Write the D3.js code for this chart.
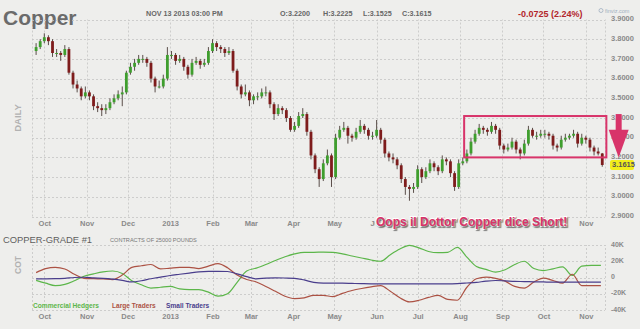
<!DOCTYPE html>
<html>
<head>
<meta charset="utf-8">
<script src="https://cdn.jsdelivr.net/npm/d3@7"></script>
<style>
  body { margin: 0; background: #eeeeec; }
  svg { display: block; font-family: "Liberation Sans", Arial, sans-serif; }
</style>
</head>
<body>
<svg class="chart"></svg>
<script>
// Price candles, one every 3 calendar days starting Sep 25 2012: [open, high, low, close]
var candleStart = new Date(2012, 8, 25);
var candleStepDays = 3;
var candles = [
  [3.74,3.78,3.72,3.76],[3.76,3.80,3.75,3.79],[3.79,3.83,3.78,3.81],[3.81,3.82,3.77,3.79],
  [3.79,3.80,3.71,3.73],[3.73,3.75,3.71,3.73],[3.73,3.74,3.69,3.72],[3.72,3.77,3.71,3.75],
  [3.75,3.76,3.62,3.63],[3.63,3.64,3.55,3.57],[3.57,3.59,3.53,3.55],[3.55,3.56,3.49,3.51],
  [3.51,3.56,3.50,3.53],[3.53,3.54,3.49,3.51],[3.51,3.52,3.44,3.46],[3.46,3.48,3.43,3.45],
  [3.45,3.47,3.41,3.44],[3.44,3.47,3.42,3.45],[3.45,3.50,3.44,3.48],[3.48,3.52,3.47,3.50],
  [3.50,3.54,3.49,3.52],[3.52,3.56,3.46,3.53],[3.53,3.64,3.52,3.63],[3.63,3.68,3.62,3.66],
  [3.66,3.70,3.64,3.68],[3.68,3.72,3.67,3.70],[3.70,3.72,3.68,3.70],[3.70,3.71,3.66,3.68],
  [3.68,3.69,3.58,3.60],[3.60,3.61,3.53,3.56],[3.56,3.59,3.55,3.56],[3.56,3.62,3.55,3.60],
  [3.60,3.76,3.59,3.72],[3.72,3.74,3.70,3.72],[3.72,3.73,3.67,3.69],[3.69,3.72,3.68,3.70],
  [3.70,3.71,3.64,3.66],[3.66,3.67,3.60,3.62],[3.62,3.70,3.61,3.68],[3.68,3.71,3.67,3.69],
  [3.69,3.70,3.65,3.67],[3.67,3.70,3.66,3.68],[3.68,3.76,3.67,3.74],[3.74,3.80,3.73,3.78],
  [3.78,3.79,3.74,3.76],[3.76,3.77,3.73,3.75],[3.75,3.76,3.71,3.73],[3.73,3.76,3.72,3.74],
  [3.74,3.75,3.63,3.64],[3.64,3.65,3.54,3.56],[3.56,3.57,3.50,3.52],[3.52,3.57,3.51,3.53],
  [3.53,3.54,3.46,3.49],[3.49,3.52,3.47,3.51],[3.51,3.53,3.49,3.51],[3.51,3.55,3.50,3.53],
  [3.53,3.56,3.51,3.53],[3.53,3.54,3.45,3.47],[3.47,3.48,3.39,3.42],[3.42,3.47,3.41,3.45],
  [3.45,3.46,3.42,3.44],[3.44,3.45,3.38,3.40],[3.40,3.41,3.33,3.34],[3.34,3.38,3.33,3.36],
  [3.36,3.43,3.35,3.41],[3.41,3.45,3.40,3.42],[3.42,3.43,3.31,3.33],[3.33,3.34,3.19,3.21],
  [3.21,3.22,3.12,3.14],[3.14,3.15,3.05,3.09],[3.09,3.19,3.08,3.17],[3.17,3.24,3.16,3.21],
  [3.21,3.22,3.05,3.10],[3.10,3.32,3.09,3.30],[3.30,3.36,3.29,3.34],[3.34,3.38,3.33,3.35],
  [3.35,3.36,3.27,3.31],[3.31,3.32,3.28,3.30],[3.30,3.35,3.29,3.33],[3.33,3.39,3.32,3.36],
  [3.36,3.37,3.32,3.34],[3.34,3.35,3.29,3.31],[3.31,3.33,3.29,3.31],[3.31,3.39,3.30,3.34],
  [3.34,3.35,3.27,3.29],[3.29,3.30,3.20,3.22],[3.22,3.23,3.18,3.20],[3.20,3.22,3.17,3.19],
  [3.19,3.20,3.14,3.16],[3.16,3.17,3.07,3.09],[3.09,3.10,3.01,3.05],[3.05,3.06,2.98,3.04],
  [3.04,3.07,3.02,3.05],[3.05,3.16,3.04,3.14],[3.14,3.15,3.07,3.10],[3.10,3.15,3.09,3.13],
  [3.13,3.19,3.12,3.17],[3.17,3.18,3.13,3.15],[3.15,3.16,3.11,3.13],[3.13,3.21,3.12,3.19],
  [3.19,3.20,3.16,3.18],[3.18,3.19,3.10,3.12],[3.12,3.13,3.03,3.05],[3.05,3.19,3.04,3.17],
  [3.17,3.20,3.16,3.18],[3.18,3.24,3.17,3.22],[3.22,3.30,3.21,3.28],[3.28,3.34,3.27,3.32],
  [3.32,3.37,3.31,3.35],[3.35,3.36,3.32,3.34],[3.34,3.35,3.31,3.33],[3.33,3.38,3.32,3.36],
  [3.36,3.37,3.32,3.34],[3.34,3.35,3.24,3.26],[3.26,3.27,3.22,3.24],[3.24,3.27,3.23,3.25],
  [3.25,3.30,3.24,3.28],[3.28,3.29,3.22,3.24],[3.24,3.25,3.19,3.22],[3.22,3.29,3.21,3.27],
  [3.27,3.36,3.26,3.34],[3.34,3.35,3.30,3.31],[3.31,3.33,3.29,3.31],[3.31,3.34,3.30,3.32],
  [3.32,3.34,3.30,3.32],[3.32,3.33,3.29,3.31],[3.31,3.32,3.24,3.26],[3.26,3.27,3.23,3.25],
  [3.25,3.31,3.24,3.29],[3.29,3.32,3.28,3.30],[3.30,3.32,3.29,3.31],[3.31,3.34,3.30,3.32],
  [3.32,3.33,3.25,3.27],[3.27,3.32,3.26,3.30],[3.30,3.31,3.27,3.29],[3.29,3.30,3.23,3.25],
  [3.25,3.26,3.21,3.23],[3.23,3.25,3.21,3.22],[3.22,3.2225,3.1525,3.1615]
];
var priceTicks = [2.9, 3.0, 3.1, 3.2, 3.3, 3.4, 3.5, 3.6, 3.7, 3.8, 3.9];

// COT weekly net positions (thousands of contracts), starting Sep 25 2012
var cotStart = new Date(2012, 8, 25);
var commercialHedgers = [-3.5,-7,-10,-8.5,-4,1.5,4.5,7,8,5,-4,-9,-13,-12,-11,-14,-15,-15,-18,-23,
  -20,-6,8,11.5,16,21,25.5,29,31,31,31.3,31,29,26.5,24,21.5,20,28,35,39.5,
  36.5,32,30.5,31,37,25,13.5,10,6.5,9.5,16,20,11,8.5,10.7,13,2.5,14,15,15];
var largeTraders = [6,11,12.5,10.5,4,-1,-1.5,-1.8,-2.5,3,12.5,14.5,16,10.5,11.5,12.5,12.5,11,14,17,
  12,3,-2.5,-5.5,-11,-17,-23,-26,-25,-22,-22,-23.5,-19.5,-16,-13.5,-11.5,-10,-17,-25,-30,
  -28,-24.5,-22,-27,-28,-12,-1.5,0.4,-1,-4.5,-11,-13,-5.5,-0.8,-3.7,-7,4,-10,-10,-10];
var smallTraders = [-1.6,-1.6,-1.5,-1,0,0.3,-0.5,-1,-2,-3.5,-5.5,-4,-1.5,0.5,2.5,4,5.5,7,7.5,7.5,
  7.4,4.5,1,-1.6,-0.8,-0.4,-0.6,-1,-3,-6,-7,-7,-7,-7.3,-7.6,-7.8,-7.8,-7.8,-7.8,-7.8,
  -7.8,-7.8,-7.8,-7.8,-7.5,-6.8,-6,-4.5,-3.7,-4.2,-4.8,-5,-5.3,-5.5,-5.7,-5.7,-5.7,-5.7,-5.7,-5.7];
var cotTicks = [-40, -20, 0, 20, 40];
var cotTickLabels = ["-40K", "-20K", "0", "20K", "40K"];
var seriesNames = ["Commercial Hedgers", "Large Traders", "Small Traders"];
var seriesColors = ["#5cb64a", "#ac5244", "#4a3e8c"];

// Header quote
var quoteDate = "NOV 13 2013 03:00 PM";
var quoteFields = ["O:3.2200", "H:3.2225", "L:3.1525", "C:3.1615"];
var quoteChange = "-0.0725 (2.24%)";
var lastPrice = 3.1615;

// Annotation: range box and arrow
var boxFrom = new Date(2013, 7, 4), boxTo = new Date(2013, 10, 16);
var boxHigh = 3.41, boxLow = 3.20;
var arrowDate = new Date(2013, 10, 25);
var arrowTop = 3.42, arrowHeadBase = 3.34, arrowTip = 3.20;
var annotationText = "Oops il Dottor Copper dice Short!";

/******** Make Chart ********/
const width = 640, height = 329;
const marginLeft = 32, marginRight = 35;
const pink = "#d8346a";
const bg = "#eeeeec";

var svg = d3.select(".chart").attr("width", width).attr("height", height);
svg.append("rect").attr("width", width).attr("height", height).attr("fill", bg);

var x = d3.scaleTime()
    .domain([new Date(2012, 8, 22), new Date(2013, 10, 15)])
    .range([marginLeft, width - marginRight]);
var y = d3.scaleLinear().domain([2.9, 3.9]).range([216.5, 19.5]);
var y2 = d3.scaleLinear().domain([-40, 40]).range([310, 245]);

var months = x.ticks(d3.timeMonth.every(1));
var monthFormat = d => d.getMonth() === 0 ? d3.timeFormat("%Y")(d) : d3.timeFormat("%b")(d);

function grid(yScale, ticks) {
    var g = svg.append("g").attr("class", "grid")
        .attr("stroke", "#c4c4c4").attr("stroke-dasharray", "2,2").attr("stroke-width", 0.8);
    g.selectAll(".h").data(ticks).enter().append("line")
        .attr("x1", marginLeft).attr("x2", width - marginRight)
        .attr("y1", d => Math.round(yScale(d)) + 0.5).attr("y2", d => Math.round(yScale(d)) + 0.5);
    var r = yScale.range();
    g.selectAll(".v").data(months.concat(x.domain())).enter().append("line")
        .attr("x1", d => Math.round(x(d)) + 0.5).attr("x2", d => Math.round(x(d)) + 0.5)
        .attr("y1", r[0]).attr("y2", r[1]);
}

function monthAxis(yPos) {
    var ax = svg.append("g")
        .attr("transform", `translate(0,${yPos})`)
        .call(d3.axisBottom(x).tickValues(months).tickFormat(monthFormat).tickSize(0).tickPadding(0));
    ax.select(".domain").remove();
    ax.selectAll("text").attr("fill", "#8a8a8a").style("font-size", "7.5px").style("font-weight", "bold")
        .style("font-family", "Liberation Sans, Arial, sans-serif");
}

// ---- Header ----
svg.append("text").text("Copper").attr("x", 3).attr("y", 25)
    .style("font-size", "21px").style("font-weight", "bold").attr("fill", "#6b6b6b");
svg.append("text").text(quoteDate).attr("x", 146).attr("y", 15.5)
    .style("font-size", "7.2px").style("font-weight", "bold").attr("fill", "#666");
var quoteX = [280, 323, 363, 402];
svg.selectAll(".quote").data(quoteFields).enter().append("text")
    .attr("x", (d, i) => quoteX[i]).attr("y", 15.5).text(d => d)
    .style("font-size", "7.2px").style("font-weight", "bold").attr("fill", "#666");
svg.append("text").text(quoteChange).attr("x", 518).attr("y", 16.5)
    .style("font-size", "9px").style("font-weight", "bold").attr("fill", "#b3262b");
svg.append("circle").attr("cx", 601).attr("cy", 10.5).attr("r", 2).attr("fill", "none")
    .attr("stroke", "#9fb0c0").attr("stroke-width", 0.8);
svg.append("text").text("finviz.com").attr("x", 605).attr("y", 12.5)
    .style("font-size", "5.5px").attr("fill", "#9fb0c0");

// ---- Price panel ----
grid(y, priceTicks);

svg.append("text").text("DAILY")
    .attr("transform", "translate(21,118) rotate(-90)")
    .attr("text-anchor", "middle")
    .style("font-size", "9.5px").style("font-weight", "bold").attr("fill", "#b2b2b2");

var yAxis = svg.append("g")
    .attr("transform", `translate(${width - marginRight},0)`)
    .call(d3.axisRight(y).tickValues(priceTicks).tickFormat(d3.format(".4f")).tickSize(0).tickPadding(6));
yAxis.select(".domain").remove();
yAxis.selectAll("text").attr("fill", "#8a8a8a").attr("dy", "0.15em")
    .style("font-size", "7.5px").style("font-weight", "bold")
    .style("font-family", "Liberation Sans, Arial, sans-serif");

monthAxis(221);

var candleData = candles.map((c, i) => ({
    date: d3.timeDay.offset(candleStart, i * candleStepDays),
    open: c[0], high: c[1], low: c[2], close: c[3]
}));

var candleG = svg.append("g");
candleG.selectAll(".wick").data(candleData).enter().append("line")
    .attr("x1", d => x(d.date)).attr("x2", d => x(d.date))
    .attr("y1", d => y(d.high)).attr("y2", d => y(d.low))
    .attr("stroke", "#4a3c38").attr("stroke-width", 0.9);
candleG.selectAll(".body").data(candleData).enter().append("rect")
    .attr("x", d => x(d.date) - 1.4)
    .attr("width", 2.8)
    .attr("y", d => y(Math.max(d.open, d.close)))
    .attr("height", d => Math.max(1, Math.abs(y(d.open) - y(d.close))))
    .attr("fill", d => d.close >= d.open ? "#3f9e2e" : "#7e1c1c");

// range box
svg.append("rect")
    .attr("x", x(boxFrom)).attr("y", y(boxHigh))
    .attr("width", x(boxTo) - x(boxFrom)).attr("height", y(boxLow) - y(boxHigh))
    .attr("fill", "none").attr("stroke", pink).attr("stroke-width", 2);

// last price tag
var tagY = y(lastPrice);
svg.append("rect").attr("x", width - marginRight + 5).attr("y", tagY - 5).attr("width", 24).attr("height", 10)
    .attr("rx", 2).attr("fill", "#f2ee1a");
svg.append("text").text(d3.format(".4f")(lastPrice))
    .attr("x", width - marginRight + 7).attr("y", tagY).attr("dy", "0.33em")
    .style("font-size", "7.5px").style("font-weight", "bold").attr("fill", "#555");

// arrow
var ax0 = x(arrowDate);
svg.append("rect").attr("x", ax0 - 3).attr("y", y(arrowTop)).attr("width", 6)
    .attr("height", y(arrowHeadBase) - y(arrowTop) + 1).attr("fill", pink);
svg.append("path")
    .attr("d", `M${ax0 - 10},${y(arrowHeadBase)} L${ax0 + 10},${y(arrowHeadBase)} L${ax0},${y(arrowTip)} Z`)
    .attr("fill", pink);

// annotation text, on a plain patch that hides the month labels beneath it
var noteBg = svg.append("rect").attr("fill", bg);
var note = svg.append("text").text(annotationText)
    .attr("x", 376).attr("y", 225.5)
    .style("font-size", "12px").style("font-weight", "bold")
    .attr("fill", pink)
    .attr("stroke", "#ffffff").attr("stroke-width", 2).attr("paint-order", "stroke")
    .style("text-shadow", "1px 1px 1px rgba(0,0,0,0.45)");
var nb = note.node().getBBox();
noteBg.attr("x", nb.x - 1).attr("y", nb.y + 1).attr("width", nb.width + 2).attr("height", nb.height - 1);

// ---- COT panel ----
svg.append("text").text("COPPER-GRADE #1").attr("x", 3).attr("y", 243)
    .style("font-size", "9.4px").attr("fill", "#5e5e5e");
svg.append("text").text("CONTRACTS OF 25000 POUNDS").attr("x", 110).attr("y", 242)
    .style("font-size", "5.6px").attr("fill", "#777");

grid(y2, cotTicks);

svg.append("text").text("COT")
    .attr("transform", "translate(21,265) rotate(-90)")
    .attr("text-anchor", "middle")
    .style("font-size", "8.5px").style("font-weight", "bold").attr("fill", "#b2b2b2");

var y2Axis = svg.append("g")
    .attr("transform", `translate(${width - marginRight},0)`)
    .call(d3.axisRight(y2).tickValues(cotTicks).tickFormat((d, i) => cotTickLabels[i]).tickSize(0).tickPadding(6));
y2Axis.select(".domain").remove();
y2Axis.selectAll("text").attr("fill", "#8a8a8a").attr("dy", "0.15em")
    .style("font-size", "7px").style("font-weight", "bold")
    .style("font-family", "Liberation Sans, Arial, sans-serif");

monthAxis(314);

var cotSeries = [commercialHedgers, largeTraders, smallTraders];
var line = d3.line()
    .x((d, i) => x(d3.timeDay.offset(cotStart, i * 7)))
    .y(d => y2(d))
    .curve(d3.curveMonotoneX);

svg.selectAll(".cot").data(cotSeries).enter().append("path")
    .attr("class", "cot")
    .attr("d", line)
    .attr("fill", "none")
    .attr("stroke", (d, i) => seriesColors[i])
    .attr("stroke-width", 1.2);

// legend
var legendX = [33, 112, 166];
svg.selectAll(".legend").data(seriesNames).enter().append("text")
    .attr("x", (d, i) => legendX[i]).attr("y", 308)
    .text(d => d)
    .style("font-size", "6.6px").style("font-weight", "bold")
    .attr("fill", (d, i) => seriesColors[i]);
</script>
</body>
</html>
